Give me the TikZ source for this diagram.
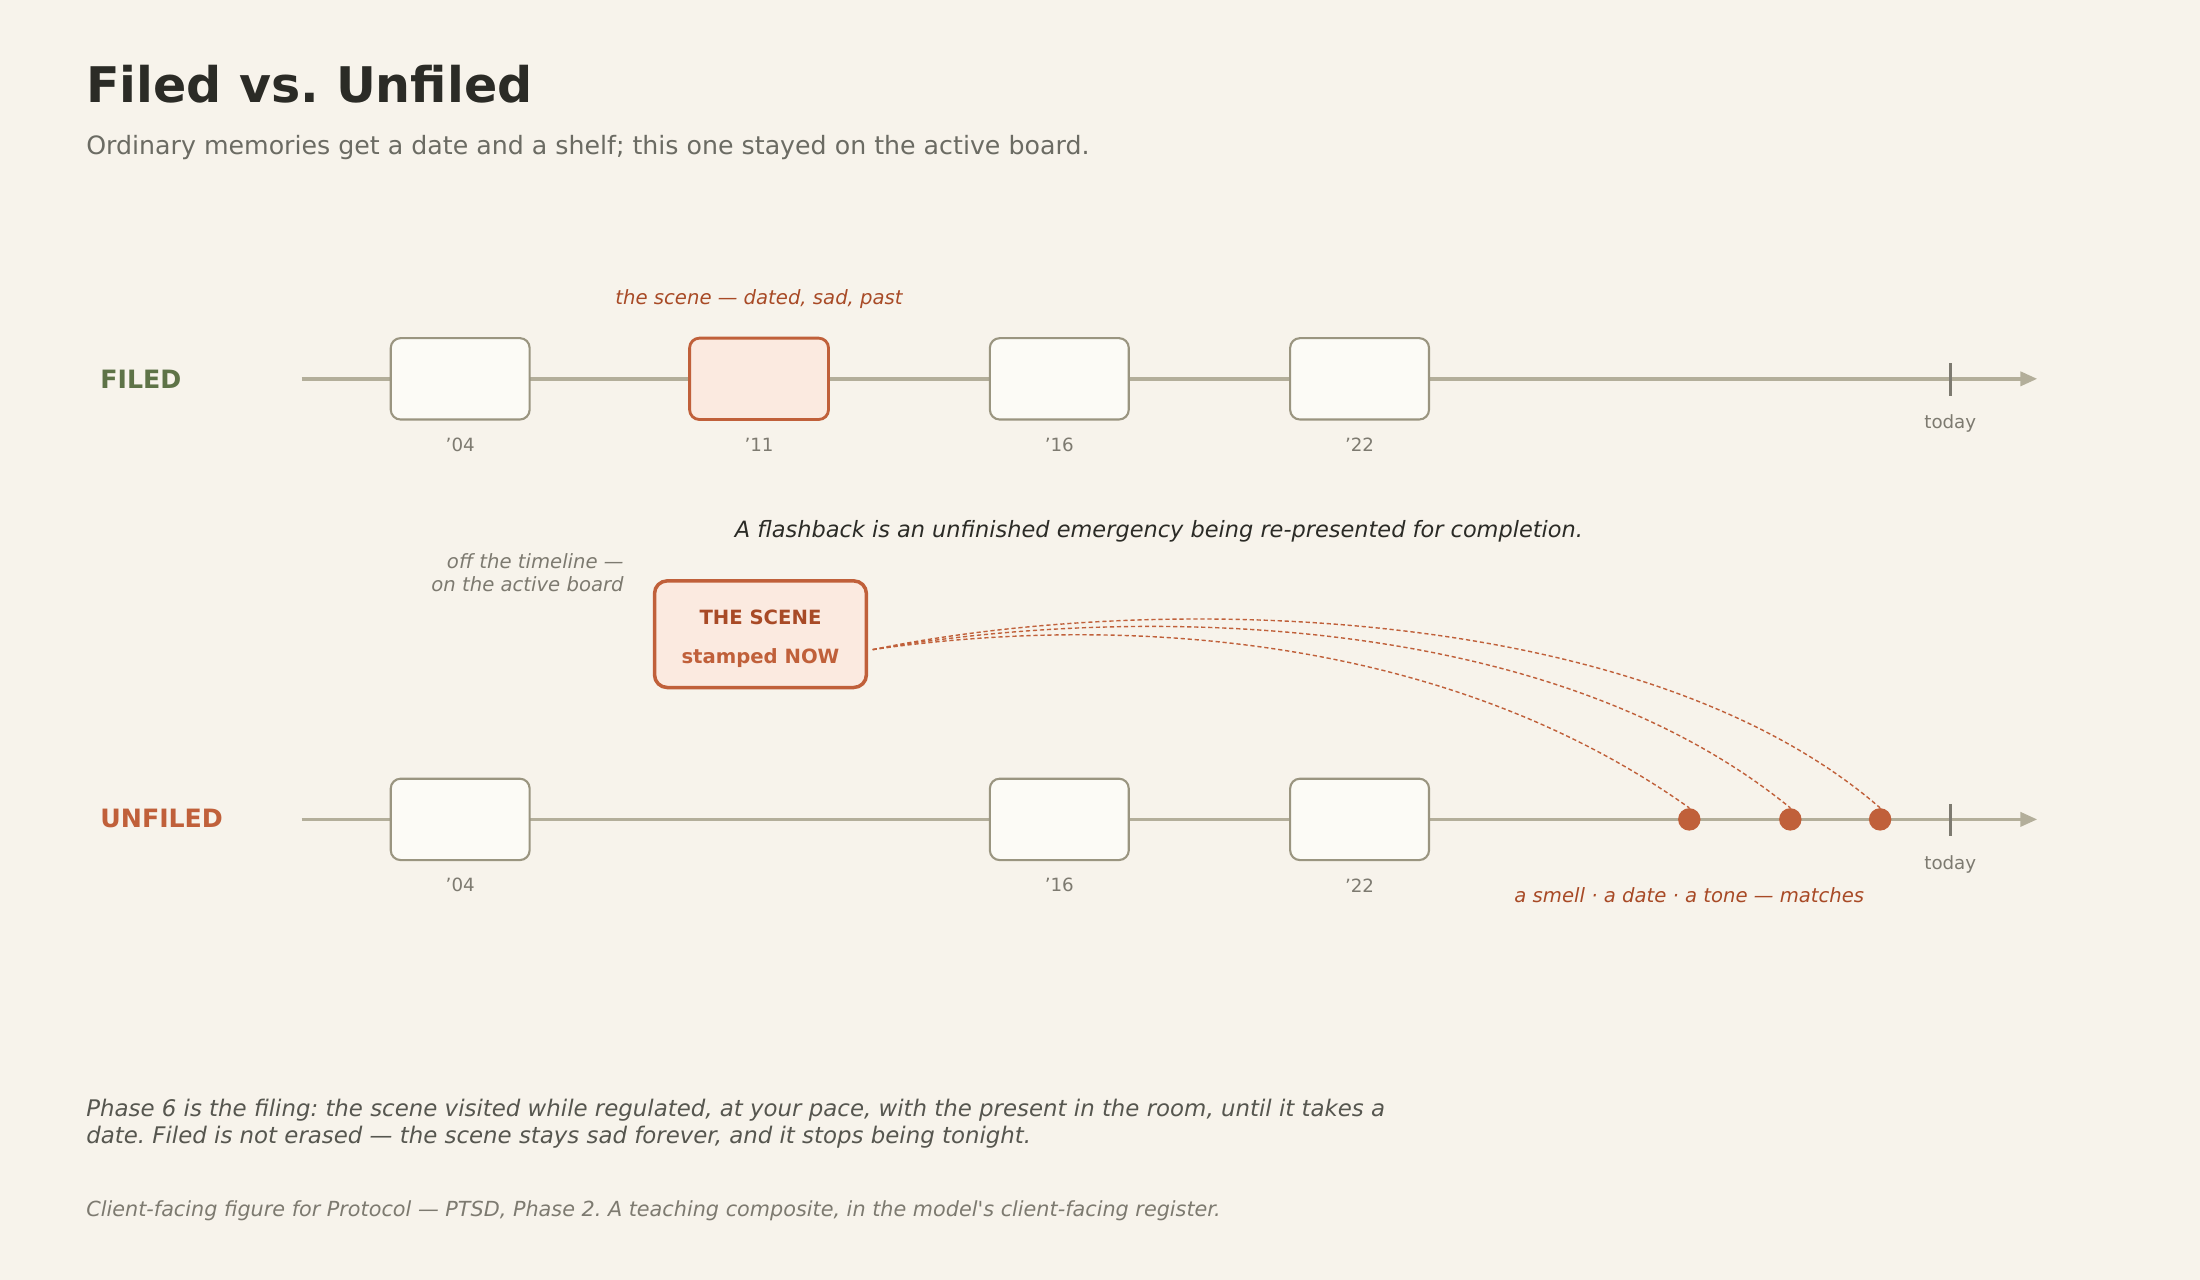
\documentclass[tikz,border=0pt]{standalone}
\usepackage{fontspec}
\setmainfont{DejaVu Sans}
\usetikzlibrary{arrows.meta}
\definecolor{bg}{HTML}{F7F3EB}
\definecolor{ink}{HTML}{2B2B26}
\definecolor{sub}{HTML}{6B6B63}
\definecolor{grn}{HTML}{5E7347}
\definecolor{axis}{HTML}{B3AE9A}
\definecolor{boxb}{HTML}{9A9580}
\definecolor{boxf}{HTML}{FCFBF6}
\definecolor{rust}{HTML}{C0603A}
\definecolor{rustd}{HTML}{A84A26}
\definecolor{pink}{HTML}{FBEAE0}
\definecolor{gry}{HTML}{7D7A70}
\begin{document}
\frenchspacing
\begin{tikzpicture}[x=1pt,y=-1pt,
  fs/.style={font=\fontsize{#1}{#1}\selectfont},
  mem/.style={draw=boxb,fill=boxf,line width=1.5pt,rounded corners=7pt,minimum width=99pt,minimum height=58pt},
  hot/.style={mem,draw=rust,fill=pink,line width=2pt},
  yr/.style={fs=13,text=gry},
  ax/.style={draw=axis,line width=2.5pt,-{Triangle[length=12pt,width=10pt]}},
  link/.style={draw=rust,line width=1pt,dash pattern=on 3pt off 2pt},
  dot/.style={circle,fill=rust,minimum size=16pt,inner sep=0pt}]
\useasboundingbox[fill=bg] (0,0) rectangle (1568,912);
\node[anchor=west,font=\fontsize{35}{35}\selectfont\bfseries,text=ink] (title) at (58,60) {Filed vs. Unfiled};
\node[anchor=west,fs=18,text=sub] (subt) at (58,105) {Ordinary memories get a date and a shelf; this one stayed on the active board.};
% FILED
\node[anchor=west,font=\fontsize{18}{18}\selectfont\bfseries,text=grn] (fl) at (68,270) {FILED};
\coordinate (a1) at (215,270); \coordinate (a2) at (1452,270);
\draw[ax] (a1) -- (a2);
\node[mem] (f1) at (328,270) {}; \node[hot] (f2) at (541,270) {};
\node[mem] (f3) at (755,270) {}; \node[mem] (f4) at (969,270) {};
\node[yr] (y1) at (328,317) {’04}; \node[yr] (y2) at (541,317) {’11};
\node[yr] (y3) at (755,317) {’16}; \node[yr] (y4) at (969,317) {’22};
\coordinate (t1) at (1390,259); \coordinate (t2) at (1390,282);
\draw[draw=gry,line width=2pt] (t1) -- (t2);
\node[yr] (td1) at (1390,302) {today};
\node[font=\fontsize{14}{14}\selectfont\itshape,text=rustd] (sc) at (541,213) {the scene — dated, sad, past};
\node[font=\fontsize{16}{16}\selectfont\itshape,text=ink] (fb) at (826,379) {A flashback is an unfinished emergency being re-presented for completion.};
\node[anchor=east,align=right,font=\fontsize{14}{16}\selectfont\itshape,text=gry] (off) at (448,408) {off the timeline —\\on the active board};
\node[draw=rust,fill=pink,line width=2.5pt,rounded corners=9pt,minimum width=151pt,minimum height=76pt] (scene) at (542,452) {};
\node[font=\fontsize{14}{14}\selectfont\bfseries,text=rustd] (s1) at (542,440) {THE SCENE};
\node[font=\fontsize{14}{14}\selectfont\bfseries,text=rust] (s2) at (542,469) {stamped NOW};
% UNFILED
\node[anchor=west,font=\fontsize{18}{18}\selectfont\bfseries,text=rust] (ul) at (68,583) {UNFILED};
\coordinate (b1) at (215,584); \coordinate (b2) at (1452,584);
\draw[ax] (b1) -- (b2);
\node[mem] (u1) at (328,584) {}; \node[mem] (u3) at (755,584) {}; \node[mem] (u4) at (969,584) {};
\node[yr] (z1) at (328,631) {’04}; \node[yr] (z3) at (755,631) {’16}; \node[yr] (z4) at (969,631) {’22};
\coordinate (t3) at (1390,573); \coordinate (t4) at (1390,596);
\draw[draw=gry,line width=2pt] (t3) -- (t4);
\node[yr] (td2) at (1390,616) {today};
\node[dot] (d1) at (1204,584) {}; \node[dot] (d2) at (1276,584) {}; \node[dot] (d3) at (1340,584) {};
\coordinate (src) at (622,463);
\draw[link] (src) .. controls (780,440) and (1020,445) .. (d1.north);
\draw[link] (src) .. controls (800,432) and (1100,432) .. (d2.north);
\draw[link] (src) .. controls (820,422) and (1170,428) .. (d3.north);
\node[font=\fontsize{14}{14}\selectfont\itshape,text=rustd] (m) at (1204,638) {a smell · a date · a tone — matches};
\node[anchor=west,align=left,font=\fontsize{16.3}{19.5}\selectfont\itshape,text=sub!80!black] (p6) at (58,801) {Phase 6 is the filing: the scene visited while regulated, at your pace, with the present in the room, until it takes a\\date. Filed is not erased — the scene stays sad forever, and it stops being tonight.};
\node[anchor=west,font=\fontsize{14.8}{15}\selectfont\itshape,text=gry] (ft) at (58,863) {Client-facing figure for Protocol — PTSD, Phase 2. A teaching composite, in the model\textquotesingle s client-facing register.};
\end{tikzpicture}
\end{document}
